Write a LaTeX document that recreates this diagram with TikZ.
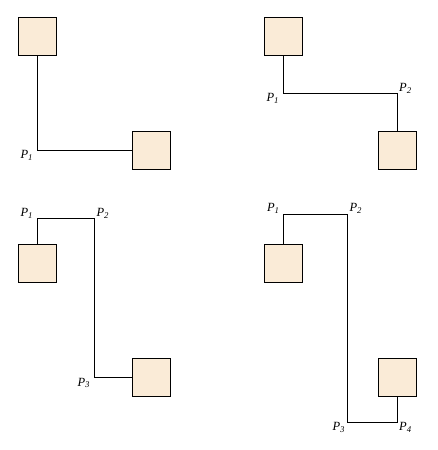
\documentclass[tikz,border=0pt]{standalone}
\usepackage{fontspec}
\setmainfont{Liberation Serif}
\definecolor{boxfill}{RGB}{250,235,215}
\begin{document}
\begin{tikzpicture}[x=1pt,y=-1pt,
  block/.style={draw=black,fill=boxfill,line width=0.8pt,minimum size=38pt,inner sep=0pt,outer sep=0pt},
  wire/.style={draw=black,line width=0.8pt},
  lbl/.style={inner sep=0pt,font=\fontsize{12.5}{14}\selectfont\itshape}]
\useasboundingbox (0,0) rectangle (437,450);

% --- one bend: P1 ---
\node[block] (a1) at (37.3,36.3) {};
\node[block] (b1) at (151.3,150.3) {};
\coordinate (a1p1) at (a1.south |- b1.west);
\draw[wire] (a1.south) -- (a1p1) -- (b1.west);
\node[lbl] (a1l1) at ([shift={(-10.5,5.5)}]a1p1) {P\textsubscript{1}};

% --- two bends: P1, P2 ---
\node[block] (a2) at (283.3,36.3) {};
\node[block] (b2) at (397,150.3) {};
\coordinate (a2p1) at (283.3,93.3);
\coordinate (a2p2) at (b2.north |- a2p1);
\draw[wire] (a2.south) -- (a2p1) -- (a2p2) -- (b2.north);
\node[lbl] (a2l1) at ([shift={(-10.5,5.5)}]a2p1) {P\textsubscript{1}};
\node[lbl] (a2l2) at ([shift={(8.5,-5)}]a2p2) {P\textsubscript{2}};

% --- three bends: P1, P2, P3 ---
\node[block] (a3) at (37.3,263.3) {};
\node[block] (b3) at (151.3,377) {};
\coordinate (a3p1) at (37.3,218.3);
\coordinate (a3p2) at (94.3,218.3);
\coordinate (a3p3) at (a3p2 |- b3.west);
\draw[wire] (a3.north) -- (a3p1) -- (a3p2) -- (a3p3) -- (b3.west);
\node[lbl] (a3l1) at ([shift={(-10.5,-4.5)}]a3p1) {P\textsubscript{1}};
\node[lbl] (a3l2) at ([shift={(8.5,-4.5)}]a3p2) {P\textsubscript{2}};
\node[lbl] (a3l3) at ([shift={(-10.5,6)}]a3p3) {P\textsubscript{3}};

% --- four bends: P1, P2, P3, P4 ---
\node[block] (a4) at (283.3,263.3) {};
\node[block] (b4) at (397,377) {};
\coordinate (a4p1) at (283.3,214.3);
\coordinate (a4p2) at (347.3,214.3);
\coordinate (a4p3) at (347.3,422.3);
\coordinate (a4p4) at (b4.south |- a4p3);
\draw[wire] (a4.north) -- (a4p1) -- (a4p2) -- (a4p3) -- (a4p4) -- (b4.south);
\node[lbl] (a4l1) at ([shift={(-10,-5.5)}]a4p1) {P\textsubscript{1}};
\node[lbl] (a4l2) at ([shift={(8.5,-5.5)}]a4p2) {P\textsubscript{2}};
\node[lbl] (a4l3) at ([shift={(-8.5,5)}]a4p3) {P\textsubscript{3}};
\node[lbl] (a4l4) at ([shift={(8.5,5)}]a4p4) {P\textsubscript{4}};
\end{tikzpicture}
\end{document}
